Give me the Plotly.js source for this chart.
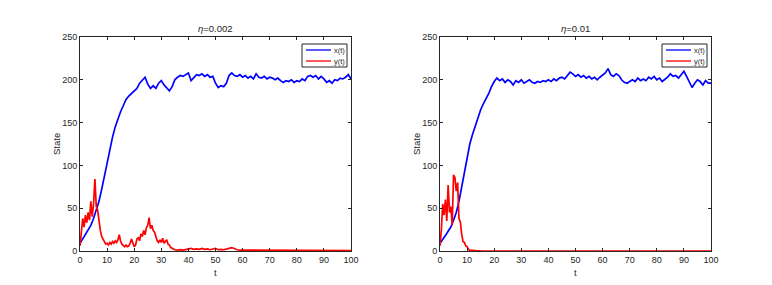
<!DOCTYPE html>
<html>
<head>
<meta charset="utf-8">
<script src="https://cdn.plot.ly/plotly-3.0.1.min.js"></script>
<style>html,body{margin:0;padding:0;background:#fff;}#chart{width:772px;height:285px;}</style>
</head>
<body>
<div id="chart"></div>
<script>
// ---- data ----
var panelTitles = ["<i>η</i>=0.002", "<i>η</i>=0.01"];
var seriesNames = ["x(t)", "y(t)"];
var xTickVals = [0,10,20,30,40,50,60,70,80,90,100];
var yTickVals = [0,50,100,150,200,250];

// x(t), sampled every 1 time unit, t = 0..100
var xLeft = [9,14,19,24,30,38,47,58,72,88,104,120,133,145,155,163,170,177,181,184,
  186,190,196,200,203,195,190,193,190,196,199,194,191,187,192,200,203,205,204,206,
  208,199,203,206,205,207,204,206,203,204,196,191,193,192,196,205,208,205,204,206,
  203,205,202,204,201,207,203,202,204,201,203,202,200,202,199,197,199,198,200,197,
  199,198,201,199,204,205,203,205,201,204,201,197,199,196,200,199,202,201,203,206,201];
var xRight = [9,13,18,23,28,36,45,58,74,92,110,125,136,146,155,165,172,178,184,192,
  198,202,199,201,197,200,198,194,199,197,200,196,198,200,197,196,198,197,199,198,
  200,198,201,199,202,203,201,205,209,207,204,206,203,205,202,204,201,203,200,203,
  205,208,213,206,204,207,205,200,197,196,198,200,198,202,199,201,199,203,201,204,
  200,202,198,200,203,207,204,205,202,206,210,204,197,191,196,200,198,194,199,196,196];

// y(t), left panel: every 0.5 for t = 0..35, then every 1 for t = 36..100
var yLeftEarly = [6,20,38,28,42,33,45,36,58,40,55,84,52,48,35,24,17,13,11,8,
  9,7,10,8,11,9,12,10,13,19,11,8,6,5,7,5,6,9,14,8,
  5,7,14,16,12,20,17,24,19,27,30,39,26,30,24,22,17,12,10,13,
  10,15,9,11,13,8,7,4,3,2,1.5];
var yLeftLate = [1,1.5,1,1.5,2.5,3,2,2.5,2,3,2,2.5,1.5,2,3,1.5,2,1.5,2,3,
  4,2.5,1.5,1,1,0.5,0.6,0.4,0.5,0.6,0.5,0.4,0.5,0.6,0.5,0.4,0.5,0.5,0.4,0.6,
  0.5,0.4,0.5,0.5,0.4,0.5,0.6,0.5,0.4,0.5,0.5,0.4,0.6,1,0.5,0.4,0.5,0.5,0.4,0.5,
  0.4,0.5,0.4,0.5,0.5];
// y(t), right panel: every 0.5 for t = 0..12, then every 1 for t = 13..100
var yRightEarly = [6,25,55,42,60,35,77,45,52,30,89,86,70,80,38,34,20,11,10,6,5,2,1,0.8,0.5];
var yRightLate = [0.4,0.3,0.2,0.1,0.1,0.1,0,0,0,0,0,0,0,0,0,0,0,0,0,0,
  0,0,0,0,0,0,0,0,0,0,0,0,0,0,0,0,0,0,0,0,0,0,0,0,0,0,0,0,0,0,
  0,0,0,0,0,0,0,0,0,0,0,0,0,0,0,0,0,0,0,0,0,0,0,0,0,0,0,0,0,0,0,0,0,0,0,0,0,0];

var seriesColors = ['#0000ff', '#ff0000'];

// ---- time grids matching the sampling above ----
function grid(start, step, n){ var a=[]; for(var i=0;i<n;i++) a.push(+(start+i*step).toFixed(2)); return a; }
var tX = grid(0,1,xLeft.length);
var tYL = grid(0,0.5,yLeftEarly.length).concat(grid(36,1,yLeftLate.length));
var yLeft = yLeftEarly.concat(yLeftLate);
var tYR = grid(0,0.5,yRightEarly.length).concat(grid(13,1,yRightLate.length));
var yRight = yRightEarly.concat(yRightLate);

var W = 772, H = 285;
var px = function(v){ return v / W; }, py = function(v){ return 1 - v / H; };

var traces = [
  {x:tX, y:xLeft, type:'scatter', mode:'lines', name:seriesNames[0], line:{color:seriesColors[0], width:1.7}, xaxis:'x', yaxis:'y'},
  {x:tYL, y:yLeft, type:'scatter', mode:'lines', name:seriesNames[1], line:{color:seriesColors[1], width:1.7}, xaxis:'x', yaxis:'y'},
  {x:tX, y:xRight, type:'scatter', mode:'lines', name:seriesNames[0], line:{color:seriesColors[0], width:1.7}, xaxis:'x2', yaxis:'y2'},
  {x:tYR, y:yRight, type:'scatter', mode:'lines', name:seriesNames[1], line:{color:seriesColors[1], width:1.7}, xaxis:'x2', yaxis:'y2'}
];

var axisCommon = {
  showgrid:false, zeroline:false, showline:true, mirror:'ticks', linecolor:'#262626', linewidth:1,
  ticks:'inside', ticklen:3, tickcolor:'#262626', tickfont:{family:'Liberation Sans, Arial', size:9, color:'#262626'}
};
function xa(dom){ return Object.assign({}, axisCommon, {domain:dom, range:[0,100], tickvals:xTickVals, ticktext:xTickVals.map(String)}); }
function ya(dom, anchor){ return Object.assign({}, axisCommon, {domain:dom, range:[0,250], tickvals:yTickVals, ticktext:yTickVals.map(String), anchor:anchor}); }

var yd = [py(251), py(37)];
var lDom = [px(80), px(351)], rDom = [px(440), px(711)];

var annFont = {family:'Liberation Sans, Arial', size:9.5, color:'#262626'};
var legFont = {family:'Liberation Sans, Arial', size:7.5, color:'#262626'};
var anns = [], shapes = [];
[[lDom,panelTitles[0],347],[rDom,panelTitles[1],707]].forEach(function(p){
  var cx = (p[0][0]+p[0][1])/2;
  anns.push({text:p[1], xref:'paper', yref:'paper', x:cx, y:py(29), xanchor:'center', yanchor:'middle', showarrow:false, font:annFont});
  anns.push({text:'t', xref:'paper', yref:'paper', x:cx, y:py(272), xanchor:'center', yanchor:'middle', showarrow:false, font:annFont});
  anns.push({text:'State', xref:'paper', yref:'paper', x:p[0][0]-px(24), y:py(144), xanchor:'center', yanchor:'middle', textangle:-90, showarrow:false, font:annFont});
  // compact boxed legend (MATLAB style)
  var r = p[2], l = r - 45;
  shapes.push({type:'rect', xref:'paper', yref:'paper', x0:px(l), x1:px(r), y0:py(44), y1:py(67), line:{color:'#262626', width:1}, fillcolor:'#ffffff'});
  seriesNames.forEach(function(nm, i){
    var yy = py(50 + i*11);
    shapes.push({type:'line', xref:'paper', yref:'paper', x0:px(l+4), x1:px(l+29), y0:yy, y1:yy, line:{color:seriesColors[i], width:1.3}});
    anns.push({text:nm, xref:'paper', yref:'paper', x:px(l+30), y:yy, xanchor:'left', yanchor:'middle', showarrow:false, font:legFont});
  });
});

var layout = {
  width:W, height:H, margin:{l:0,r:0,t:0,b:0}, paper_bgcolor:'#ffffff', plot_bgcolor:'#ffffff',
  showlegend:false,
  xaxis:xa(lDom), yaxis:ya(yd,'x'),
  xaxis2:xa(rDom), yaxis2:ya(yd,'x2'),
  annotations:anns, shapes:shapes
};

Plotly.newPlot('chart', traces, layout, {displayModeBar:false, staticPlot:true});
</script>
</body>
</html>
